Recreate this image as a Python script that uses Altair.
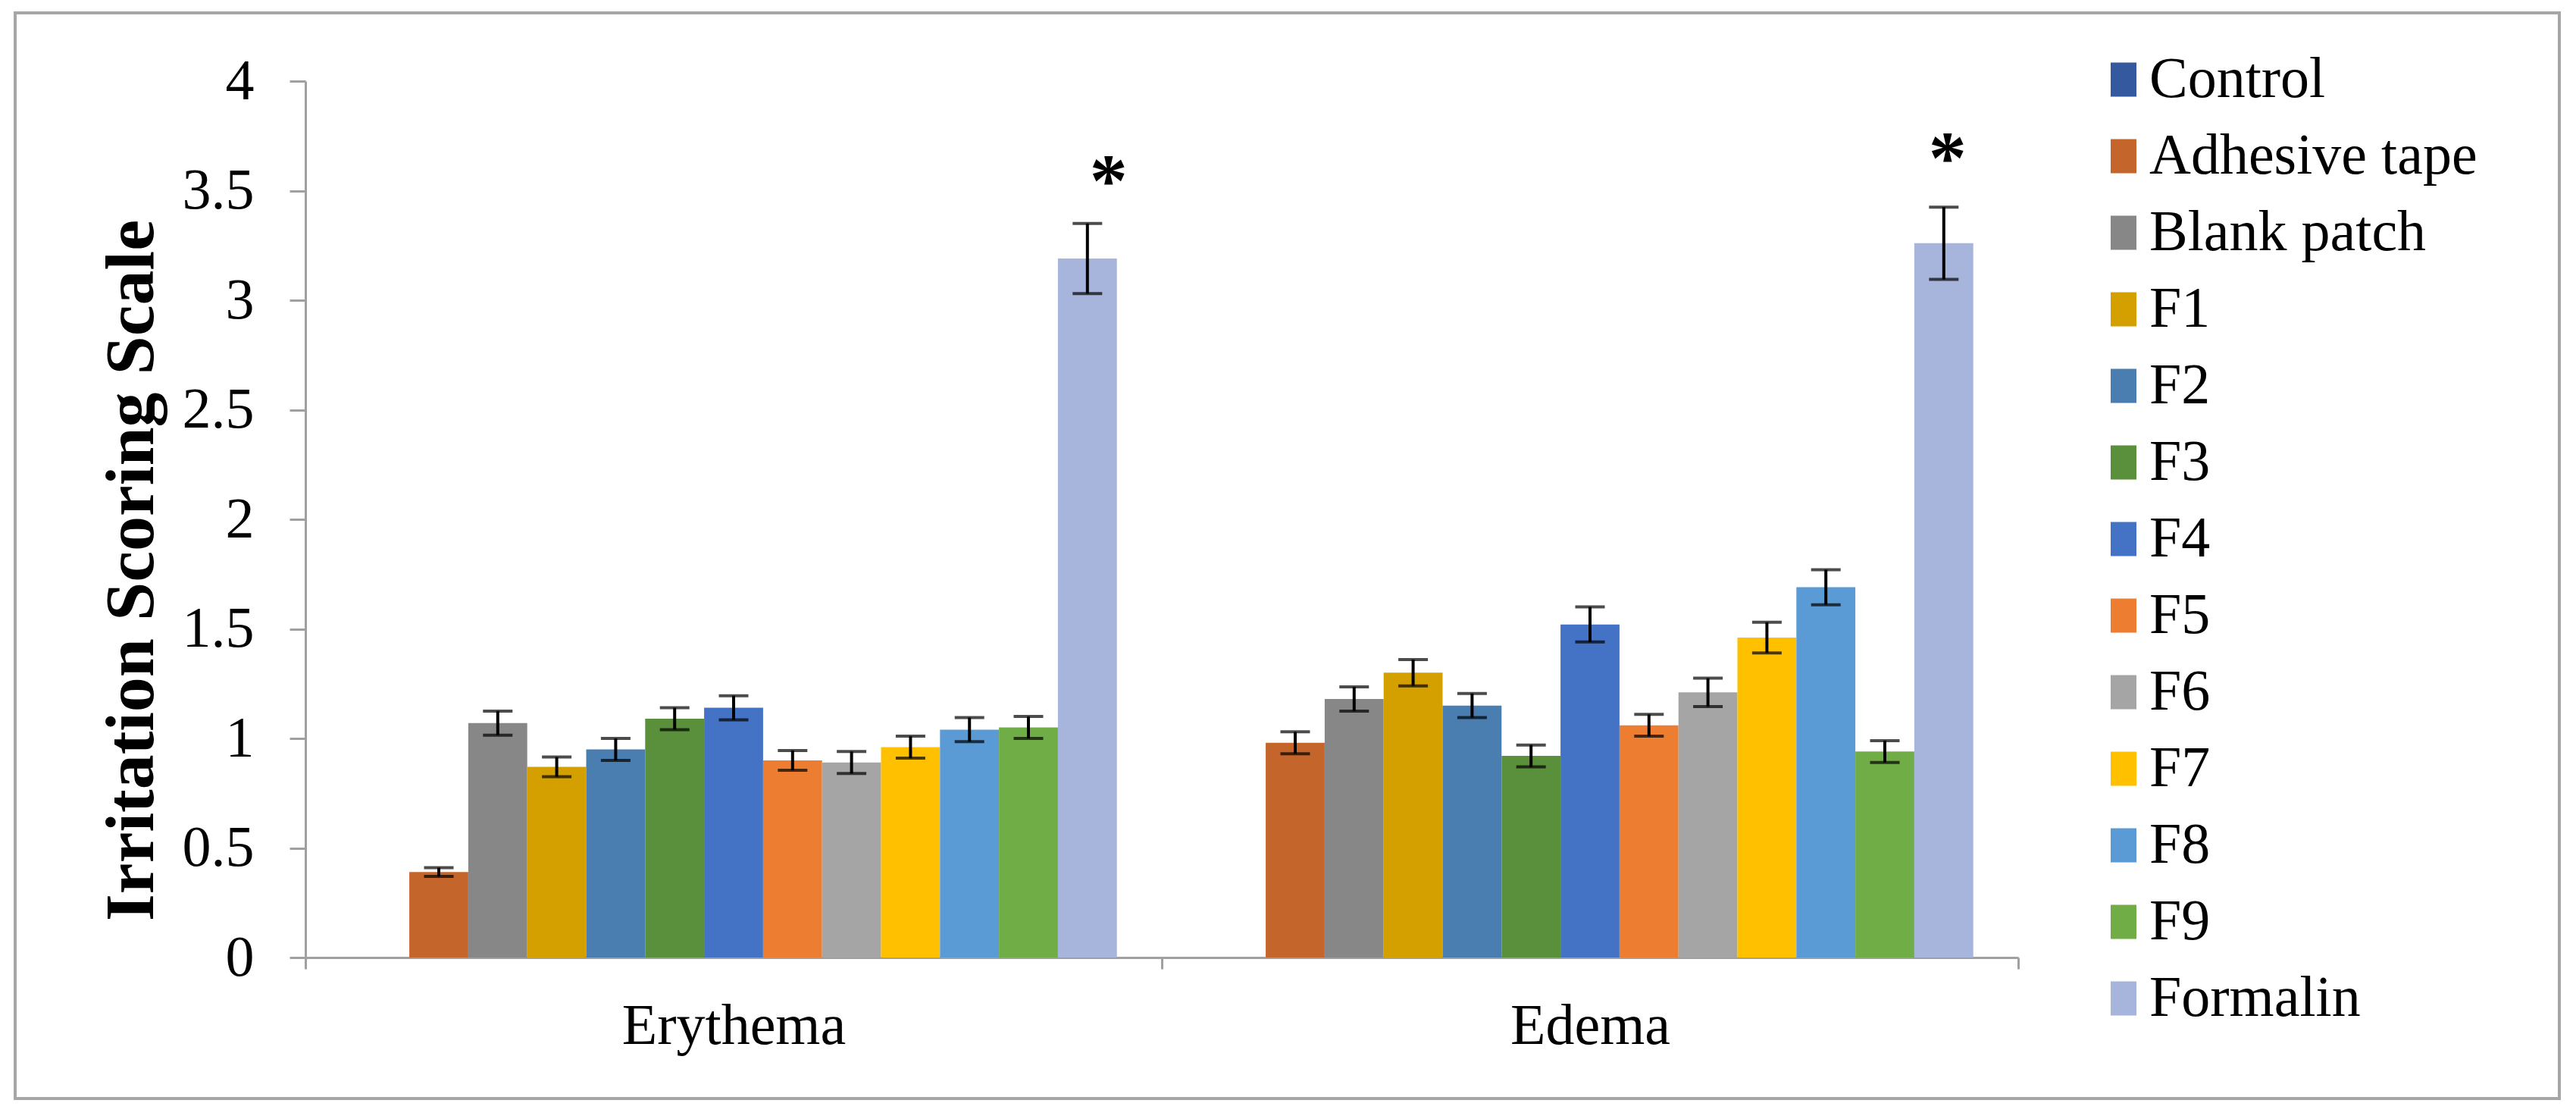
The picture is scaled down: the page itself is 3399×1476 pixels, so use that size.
import altair as alt
import pandas as pd

groups = ["Erythema", "Edema"]
series = ["Control", "Adhesive tape", "Blank patch", "F1", "F2", "F3", "F4",
          "F5", "F6", "F7", "F8", "F9", "Formalin"]
colors = ["#34599E", "#C4652B", "#878787", "#D4A000", "#4A7DB0", "#5A8F3B",
          "#4472C4", "#ED7D31", "#A5A5A5", "#FFC000", "#5B9BD5", "#70AD47",
          "#A7B4DB"]

erythema_vals = [0, 0.39, 1.07, 0.87, 0.95, 1.09, 1.14, 0.90, 0.89, 0.96, 1.04, 1.05, 3.19]
erythema_err = [0, 0.02, 0.055, 0.045, 0.05, 0.05, 0.055, 0.045, 0.05, 0.05, 0.055, 0.05, 0.16]
edema_vals = [0, 0.98, 1.18, 1.30, 1.15, 0.92, 1.52, 1.06, 1.21, 1.46, 1.69, 0.94, 3.26]
edema_err = [0, 0.05, 0.055, 0.06, 0.055, 0.05, 0.08, 0.05, 0.065, 0.07, 0.08, 0.05, 0.165]
y_ticks = [0, 0.5, 1, 1.5, 2, 2.5, 3, 3.5, 4]

rows = []
for g, vals, errs in [("Erythema", erythema_vals, erythema_err),
                      ("Edema", edema_vals, edema_err)]:
    for s, v, e in zip(series, vals, errs):
        rows.append({"group": g, "series": s, "value": v, "err": e,
                     "lo": v - e, "hi": v + e})
df = pd.DataFrame(rows)

FONT = "Liberation Serif"
AXIS_GRAY = "#A0A0A0"
YTITLE = "Irritation Scoring Scale"

x_enc = alt.X("group:N", sort=groups,
              scale=alt.Scale(paddingInner=0, paddingOuter=0),
              axis=alt.Axis(title=None, labelAngle=0, tickBand="extent",
                            labelFont=FONT, labelFontSize=76, labelColor="black",
                            labelPadding=38, labelLimit=2000,
                            tickSize=15, tickWidth=3,
                            tickColor=AXIS_GRAY, domainColor=AXIS_GRAY,
                            domainWidth=3))
xo_enc = alt.XOffset("series:N", sort=series,
                     scale=alt.Scale(paddingInner=0, paddingOuter=0.762))
y_scale = alt.Scale(domain=[0, 4], nice=False)

base = alt.Chart(df)

bars = base.mark_bar(stroke=None).encode(
    x=x_enc,
    xOffset=xo_enc,
    y=alt.Y("value:Q", scale=y_scale, title=YTITLE,
            axis=alt.Axis(values=y_ticks, format="~g", grid=False,
                          labelFont=FONT, labelFontSize=76, labelColor="black",
                          labelPadding=47, tickSize=21, tickWidth=3,
                          tickColor=AXIS_GRAY, domainColor=AXIS_GRAY,
                          domainWidth=3,
                          titleFont=FONT, titleFontSize=92, titleFontWeight="bold",
                          titleColor="black", titleX=-230, titleY=645,
                          titleAngle=-90, titleBaseline="middle",
                          titleAlign="center")),
    color=alt.Color("series:N", sort=series,
                    scale=alt.Scale(domain=series, range=colors),
                    legend=alt.Legend(title=None, orient="none",
                                      legendX=2351, legendY=-40,
                                      symbolType="M-0.7,-2.25H2.7V2.25H-0.7Z",
                                      symbolSize=400, symbolStrokeWidth=0,
                                      labelFont=FONT, labelFontSize=76,
                                      labelColor="black", rowPadding=25,
                                      labelOffset=6, padding=0,
                                      labelLimit=1000)),
)

errdf = base.transform_filter(alt.datum.err > 0)

rules = errdf.mark_rule(color="black", strokeWidth=4).encode(
    x=x_enc, xOffset=xo_enc,
    y=alt.Y("lo:Q", scale=y_scale, title=YTITLE),
    y2="hi:Q",
)
caps_lo = errdf.mark_tick(color="black", thickness=4, size=39, orient="horizontal").encode(
    x=x_enc, xOffset=xo_enc,
    y=alt.Y("lo:Q", scale=y_scale, title=YTITLE),
)
caps_hi = errdf.mark_tick(color="black", thickness=4, size=39, orient="horizontal").encode(
    x=x_enc, xOffset=xo_enc,
    y=alt.Y("hi:Q", scale=y_scale, title=YTITLE),
)

star_ery = base.transform_filter(
    (alt.datum.series == "Formalin") & (alt.datum.group == "Erythema")
).mark_text(text="*", font=FONT, fontWeight="bold", fontSize=100,
            color="black", dx=28, dy=-54).encode(
    x=x_enc, xOffset=xo_enc,
    y=alt.Y("hi:Q", scale=y_scale, title=YTITLE),
)
star_ede = base.transform_filter(
    (alt.datum.series == "Formalin") & (alt.datum.group == "Edema")
).mark_text(text="*", font=FONT, fontWeight="bold", fontSize=100,
            color="black", dx=5, dy=-62).encode(
    x=x_enc, xOffset=xo_enc,
    y=alt.Y("hi:Q", scale=y_scale, title=YTITLE),
)

frame = alt.Chart(pd.DataFrame({"a": [0]})).mark_rect(
    fillOpacity=0, stroke="#A6A6A6", strokeWidth=4
).encode(
    x=alt.value(-383), x2=alt.value(2974),
    y=alt.value(-90), y2=alt.value(1342),
)

chart = alt.layer(frame, bars, rules, caps_lo, caps_hi, star_ery, star_ede).properties(
    width=2260, height=1156,
    padding={"left": 395, "top": 99, "right": 720, "bottom": 200},
    autosize=alt.AutoSizeParams(type="none"),
    background="white",
).configure_view(stroke=None)

chart.save("out.html", embed_options={"renderer": "svg", "actions": False})
